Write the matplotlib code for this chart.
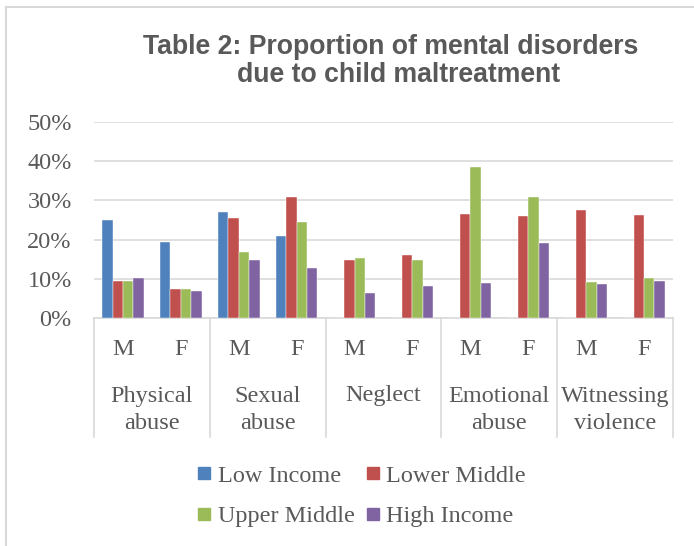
import matplotlib
matplotlib.use("Agg")
import matplotlib.pyplot as plt
from matplotlib.lines import Line2D
import numpy as np

# ---- data ----
groups = ["Physical\nabuse", "Sexual\nabuse", "Neglect", "Emotional\nabuse", "Witnessing\nviolence"]
sexes = ["M", "F"]
series_names = ["Low Income", "Lower Middle", "Upper Middle", "High Income"]
low_income   = [0.250, 0.193, 0.270, 0.209, 0.0, 0.0, 0.0, 0.0, 0.0, 0.0]
lower_middle = [0.095, 0.073, 0.254, 0.308, 0.147, 0.160, 0.266, 0.261, 0.276, 0.263]
upper_middle = [0.094, 0.074, 0.169, 0.246, 0.153, 0.149, 0.386, 0.309, 0.093, 0.103]
high_income  = [0.102, 0.068, 0.149, 0.128, 0.064, 0.082, 0.089, 0.192, 0.087, 0.095]
colors = ["#4F81BD", "#C0504D", "#9BBB59", "#8064A2"]
y_ticks = [0.0, 0.1, 0.2, 0.3, 0.4, 0.5]
y_ticklabels = ["0%", "10%", "20%", "30%", "40%", "50%"]

SERIF = ["Liberation Serif", "DejaVu Serif"]
SANS = ["Liberation Sans", "DejaVu Sans"]
TXT = "#595959"
GRID = "#D9D9D9"

W, H = 694, 546
fig = plt.figure(figsize=(W / 100, H / 100), dpi=100)
ax = fig.add_axes([94 / W, 1 - 318 / H, (673 - 94) / W, (318 - 122) / H])

series = [low_income, lower_middle, upper_middle, high_income]
n_cat = len(groups) * len(sexes)
x = np.arange(n_cat)
bw = 0.18
for i, (vals, c) in enumerate(zip(series, colors)):
    ax.bar(x + (i - 1.5) * bw, vals, width=bw, color=c, zorder=3,
           edgecolor="white", linewidth=0.3)

ax.set_xlim(-0.5, n_cat - 0.5)
ax.set_ylim(0, 0.5)
ax.set_yticks(y_ticks)
ax.set_yticklabels(y_ticklabels, fontsize=17.5, color=TXT, family=SERIF)
ax.set_xticks(x)
ax.set_xticklabels(sexes * len(groups), fontsize=17.5, color=TXT, family=SERIF)
ax.tick_params(axis="both", length=0)
ax.tick_params(axis="y", pad=16)
ax.tick_params(axis="x", pad=15)
ax.grid(axis="y", color=GRID, linewidth=1.2, zorder=0)
for s in ["left", "top", "right"]:
    ax.spines[s].set_visible(False)
ax.spines["bottom"].set_color(GRID)
ax.spines["bottom"].set_linewidth(1.2)

# group separators under the axis
trans = ax.get_xaxis_transform()
ybot = -(437 - 318) / (318 - 122)
for b in np.arange(-0.5, n_cat, 2):
    ax.add_line(Line2D([b, b], [0, ybot], transform=trans, color=GRID,
                       linewidth=1.2, clip_on=False))

# group labels
for gi, g in enumerate(groups):
    cx = gi * 2 + 0.5
    if "\n" in g:
        yy = -(410 - 318) / (318 - 122)
    else:
        yy = -(396 - 318) / (318 - 122)
    ax.text(cx, yy, g, transform=trans, ha="center", va="center",
            fontsize=17.5, color=TXT, family=SERIF, linespacing=1.38)

# title
fig.text(391 / W, 1 - 47 / H, "Table 2: Proportion of mental disorders",
         ha="center", va="center", fontsize=19.2, fontweight="bold",
         color=TXT, family=SANS)
fig.text(399 / W, 1 - 75 / H, "due to child maltreatment",
         ha="center", va="center", fontsize=19.2, fontweight="bold",
         color=TXT, family=SANS)

# legend (row-wise order: Low, Lower / Upper, High)
order = [0, 2, 1, 3]
handles = [Line2D([], [], marker="s", linestyle="", markersize=8.5,
                  color=colors[k]) for k in order]
labels = [series_names[k] for k in order]
leg = fig.legend(handles, labels, ncol=2, loc="center",
                 bbox_to_anchor=(362 / W, 1 - 496 / H), frameon=False,
                 prop={"family": SERIF, "size": 17.5}, handlelength=0.5,
                 handletextpad=0.3, columnspacing=0.5, labelspacing=0.78,
                 borderpad=0)
for t in leg.get_texts():
    t.set_color(TXT)

# chart border (left and top)
fig.add_artist(Line2D([6 / W, 6 / W], [0, 1 - 7 / H], transform=fig.transFigure,
                      color=GRID, linewidth=1.5))
fig.add_artist(Line2D([6 / W, 1], [1 - 7 / H, 1 - 7 / H], transform=fig.transFigure,
                      color=GRID, linewidth=1.5))

fig.savefig("out.png", dpi=100, facecolor="white")
